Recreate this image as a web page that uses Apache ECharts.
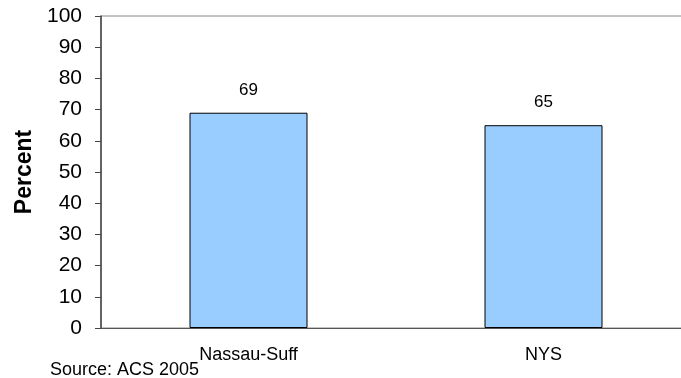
<!DOCTYPE html>
<html>
<head>
<meta charset="utf-8">
<script src="https://cdn.jsdelivr.net/npm/echarts@6/dist/echarts.min.js"></script>
<style>
  html, body { margin: 0; padding: 0; background: #fff; overflow: hidden; width: 681px; height: 378px; }
  /* plot frame runs past the right edge of the page, so the canvas is a little wider */
  #chart { width: 691px; height: 378px; }
</style>
</head>
<body>
<div id="chart"></div>
<script>
// Share of population, by area
const categories = ['Nassau-Suff', 'NYS'];
const percentValues = [69, 65];
const yTicks = [0, 10, 20, 30, 40, 50, 60, 70, 80, 90, 100];

const chart = echarts.init(document.getElementById('chart'));
const font = 'Liberation Sans, Arial, sans-serif';

chart.setOption({
  animation: false,
  grid: {
    left: 101, right: 0, top: 16, bottom: 50,
    show: true, borderColor: '#888', borderWidth: 1, backgroundColor: 'transparent'
  },
  xAxis: {
    type: 'category',
    data: categories,
    axisLine: { lineStyle: { color: '#555', width: 1 } },
    axisTick: { show: false },
    axisLabel: { color: '#000', fontSize: 18, fontFamily: font, margin: 18 }
  },
  yAxis: {
    type: 'value',
    min: yTicks[0], max: yTicks[yTicks.length - 1], interval: 10,
    name: 'Percent',
    nameLocation: 'middle',
    nameGap: 55,
    nameRotate: 90,
    nameTextStyle: { color: '#000', fontSize: 23, fontWeight: 'bold', fontFamily: font },
    axisLine: { show: true, lineStyle: { color: '#444', width: 1.5 } },
    axisTick: { show: true, length: 6, lineStyle: { color: '#444' } },
    splitLine: { show: false },
    axisLabel: { color: '#000', fontSize: 21, fontFamily: font, margin: 19 }
  },
  series: [{
    type: 'bar',
    data: percentValues,
    barWidth: '40%',
    itemStyle: { color: '#99CCFF', borderColor: '#000', borderWidth: 1 },
    label: {
      show: true, position: 'top', distance: 14,
      color: '#000', fontSize: 17, fontFamily: font
    }
  }],
  graphic: [{
    type: 'text',
    left: 50, top: 361,
    style: { text: 'Source: ACS 2005', fill: '#000', font: '18px ' + font }
  }]
});
</script>
</body>
</html>
